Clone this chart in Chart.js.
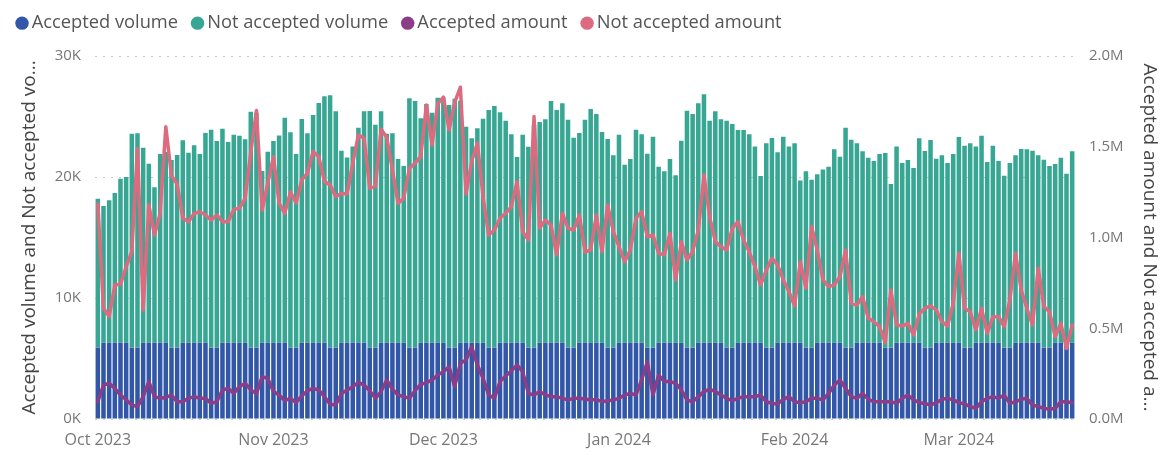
<!DOCTYPE html>
<html lang="en">
<head>
  <meta charset="UTF-8" />
  <title>Accepted vs not accepted</title>
  <script src="https://cdn.jsdelivr.net/npm/chart.js"></script>
  <style>
    * { margin: 0; padding: 0; box-sizing: border-box; }
    body { background: #fff; }
    .chart-container { position: relative; width: 1165px; height: 455px; }
  </style>
</head>
<body>
  <div class="chart-container">
    <canvas id="acceptChart"></canvas>
  </div>

  <script>
    // daily values, 1 Oct 2023 .. 21 Mar 2024 (one row per month)
    const acceptedVolume = [
      5900, 6300, 6300, 6300, 6300, 6300, 5900, 5900, 6300, 6300, 6300, 6300, 6300, 5900, 5900, 6300, 6300, 6300, 6300, 6300, 5900, 5900, 6300, 6300, 6300, 6300, 6300, 5900, 5900, 6300, 6300,
      6300, 6300, 6300, 5900, 5900, 6300, 6300, 6300, 6300, 6300, 5900, 5900, 6300, 6300, 6300, 6300, 6300, 5900, 5900, 6300, 6300, 6300, 6300, 6300, 5900, 5900, 6300, 6300, 6300, 6300,
      6300, 5900, 5900, 6300, 6300, 6300, 6300, 6300, 5900, 5900, 6300, 6300, 6300, 6300, 6300, 5900, 5900, 6300, 6300, 6300, 6300, 6300, 5900, 5900, 6300, 6300, 6300, 6300, 6300, 5900, 5900,
      6300, 6300, 6300, 6300, 6300, 5900, 5900, 6300, 6300, 6300, 6300, 6300, 5900, 5900, 6300, 6300, 6300, 6300, 6300, 5900, 5900, 6300, 6300, 6300, 6300, 6300, 5900, 5900, 6300, 6300, 6300,
      6300, 6300, 5900, 5900, 6300, 6300, 6300, 6300, 6300, 5900, 5900, 6300, 6300, 6300, 6300, 6300, 5900, 5900, 6300, 6300, 6300, 6300, 6300, 5900, 5900, 6300, 6300, 6300, 6300,
      6300, 5900, 5900, 6300, 6300, 6300, 6300, 6300, 5900, 5900, 6300, 6300, 6300, 6300, 6300, 5900, 5900, 6300, 6300, 6300, 6300
    ];

    const notAcceptedVolume = [
      12310, 11300, 11770, 12380, 13560, 13700, 17680, 17710, 16120, 14800, 12850, 15600, 15760, 15500, 15920, 16730, 15710, 16320, 15600, 17330, 18010, 17070, 17690, 16590, 17200, 17110, 16810, 19500, 19400, 14190, 15790,
      16670, 17140, 18600, 17790, 16000, 18490, 17310, 18820, 19810, 20370, 20850, 19530, 15870, 15320, 16230, 17780, 19130, 19550, 18420, 19130, 17280, 17310, 15190, 14610, 20600, 20380, 18550, 19730, 19010, 20250,
      20280, 20050, 20570, 20000, 17860, 16900, 17720, 18520, 19640, 19970, 19050, 18350, 17230, 15350, 17200, 16600, 18400, 18240, 18470, 19980, 19240, 19790, 18840, 17350, 17330, 18440, 19320, 18910, 17420, 17240, 15890,
      17200, 14720, 15190, 17610, 17230, 16030, 17430, 14550, 14170, 15190, 13840, 16700, 19580, 19310, 19790, 20530, 18350, 19130, 18470, 18750, 18480, 17580, 17580, 17230, 16230, 13780, 16880, 17320, 15740, 17030, 16230,
      16480, 13420, 14570, 13880, 13920, 14330, 14550, 15990, 15380, 18180, 17180, 16480, 15820, 15300, 15020, 15600, 16080, 13520, 16230, 14860, 15100, 14440, 16900, 16250, 17160, 15210, 15490, 14860, 15600,
      17000, 16690, 16880, 16230, 17110, 14940, 16290, 15020, 14210, 15260, 15490, 16010, 15990, 15870, 15490, 15530, 15010, 14770, 15300, 13970, 15820
    ];

    const acceptedAmount = [
      95000, 187000, 197000, 169000, 132000, 105000, 77000, 68000, 123000, 206000, 123000, 114000, 119000, 132000, 95000, 95000, 114000, 123000, 114000, 114000, 86000, 95000, 160000, 169000, 141000, 178000, 197000, 160000, 140000, 233000, 224000,
      151000, 132000, 101000, 114000, 90000, 127000, 156000, 169000, 160000, 123000, 81000, 77000, 141000, 160000, 178000, 202000, 187000, 156000, 114000, 151000, 215000, 164000, 132000, 123000, 114000, 156000, 190000, 200000, 215000, 242000,
      261000, 288000, 178000, 307000, 325000, 398000, 298000, 224000, 132000, 114000, 206000, 237000, 266000, 298000, 261000, 141000, 132000, 151000, 132000, 123000, 123000, 114000, 105000, 114000, 114000, 110000, 105000, 108000, 95000, 101000, 105000,
      114000, 132000, 141000, 132000, 215000, 316000, 132000, 242000, 206000, 206000, 197000, 160000, 105000, 95000, 123000, 151000, 164000, 151000, 132000, 114000, 101000, 114000, 123000, 123000, 123000, 132000, 95000, 86000, 83000, 108000, 123000,
      95000, 90000, 95000, 114000, 114000, 105000, 141000, 187000, 215000, 169000, 123000, 114000, 141000, 108000, 95000, 95000, 95000, 95000, 86000, 114000, 132000, 105000, 90000, 86000, 77000, 90000, 108000, 114000, 105000,
      90000, 83000, 68000, 59000, 95000, 114000, 123000, 114000, 132000, 86000, 95000, 108000, 114000, 77000, 68000, 59000, 53000, 59000, 95000, 95000, 90000
    ];

    const notAcceptedAmount = [
      1185000, 610000, 564000, 738000, 742000, 839000, 922000, 1490000, 600000, 1180000, 1014000, 1133000, 1610000, 1340000, 1295000, 1106000, 1087000, 1133000, 1142000, 1124000, 1096000, 1124000, 1087000, 1087000, 1155000, 1161000, 1216000, 1470000, 1700000, 1150000, 1300000,
      1445000, 1190000, 1133000, 1250000, 1190000, 1317000, 1354000, 1473000, 1445000, 1308000, 1290000, 1225000, 1244000, 1240000, 1409000, 1565000, 1547000, 1271000, 1280000, 1596000, 1552000, 1372000, 1188000, 1216000, 1381000, 1409000, 1445000, 1730000, 1510000, 1736000,
      1774000, 1592000, 1745000, 1828000, 1240000, 1420000, 1520000, 1225000, 1014000, 1041000, 1106000, 1133000, 1170000, 1308000, 1032000, 986000, 1666000, 1051000, 1096000, 1069000, 904000, 1133000, 1051000, 1041000, 1124000, 920000, 931000, 1124000, 922000, 1179000, 1032000,
      949000, 867000, 931000, 1106000, 1142000, 1005000, 1014000, 913000, 904000, 1023000, 766000, 977000, 876000, 922000, 1041000, 1344000, 1115000, 977000, 949000, 931000, 1051000, 1087000, 986000, 920000, 840000, 738000, 821000, 885000, 849000, 766000, 702000,
      623000, 867000, 720000, 1060000, 931000, 766000, 729000, 738000, 784000, 931000, 637000, 628000, 674000, 555000, 536000, 509000, 420000, 711000, 518000, 512000, 527000, 463000, 578000, 610000, 623000, 600000, 536000, 512000, 637000,
      913000, 610000, 591000, 490000, 610000, 472000, 564000, 564000, 509000, 656000, 913000, 711000, 610000, 518000, 830000, 619000, 591000, 453000, 527000, 389000, 518000
    ];

    const seriesNames = ['Accepted volume', 'Not accepted volume', 'Accepted amount', 'Not accepted amount'];
    const seriesColors = ['#3257A8', '#37A794', '#8B3D88', '#DD6B7F'];
    const monthNames = ['Jan', 'Feb', 'Mar', 'Apr', 'May', 'Jun', 'Jul', 'Aug', 'Sep', 'Oct', 'Nov', 'Dec'];

    // one category per day, starting 1 Oct 2023
    const days = acceptedVolume.map((_, i) => new Date(2023, 9, 1 + i));
    const dayLabels = days.map(d => d.getFullYear() + '-' + (d.getMonth() + 1) + '-' + d.getDate());

    Chart.defaults.font.family = "'Segoe UI', 'Open Sans', sans-serif";
    Chart.defaults.color = '#777';

    // taller legend box so the plot starts lower on the canvas
    const legendSpacing = {
      id: 'legendSpacing',
      beforeInit(chart) {
        const fit = chart.legend.fit;
        chart.legend.fit = function () {
          fit.call(this);
          this.height = 61;
        };
      }
    };

    const ctx = document.getElementById('acceptChart').getContext('2d');

    new Chart(ctx, {
      type: 'bar',
      data: {
        labels: dayLabels,
        datasets: [
          {
            label: seriesNames[0],
            data: acceptedVolume,
            backgroundColor: seriesColors[0],
            yAxisID: 'y',
            order: 2,
            barPercentage: 0.8,
            categoryPercentage: 1
          },
          {
            label: seriesNames[1],
            data: notAcceptedVolume,
            backgroundColor: seriesColors[1],
            yAxisID: 'y',
            order: 2,
            barPercentage: 0.8,
            categoryPercentage: 1
          },
          {
            type: 'line',
            label: seriesNames[2],
            data: acceptedAmount,
            yAxisID: 'y1',
            borderColor: seriesColors[2],
            backgroundColor: seriesColors[2],
            borderWidth: 3.5,
            borderJoinStyle: 'round',
            borderCapStyle: 'round',
            pointRadius: 0,
            tension: 0,
            order: 1
          },
          {
            type: 'line',
            label: seriesNames[3],
            data: notAcceptedAmount,
            yAxisID: 'y1',
            borderColor: seriesColors[3],
            backgroundColor: seriesColors[3],
            borderWidth: 3.5,
            borderJoinStyle: 'round',
            borderCapStyle: 'round',
            pointRadius: 0,
            tension: 0,
            order: 0
          }
        ]
      },
      options: {
        responsive: true,
        maintainAspectRatio: false,
        animation: false,
        layout: {
          padding: { top: -5, left: 2.5, right: 0, bottom: 0 }
        },
        plugins: {
          legend: {
            position: 'top',
            align: 'start',
            labels: {
              usePointStyle: true,
              pointStyle: 'circle',
              boxWidth: 1,
              boxHeight: 9.5,
              padding: 19,
              color: '#555',
              font: { size: 18.3 },
              sort: (a, b) => a.datasetIndex - b.datasetIndex,
              generateLabels(chart) {
                return Chart.defaults.plugins.legend.labels.generateLabels(chart).map(item => {
                  const c = seriesColors[item.datasetIndex];
                  return { ...item, fillStyle: c, strokeStyle: c, lineWidth: 0 };
                });
              }
            }
          },
          tooltip: { enabled: false }
        },
        scales: {
          x: {
            stacked: true,
            grid: { display: false },
            border: { display: false },
            ticks: {
              autoSkip: false,
              maxRotation: 0,
              padding: 4,
              color: '#777',
              font: { size: 16 },
              callback: function (value, index) {
                const d = days[index];
                return d.getDate() === 1 ? monthNames[d.getMonth()] + ' ' + d.getFullYear() : '';
              }
            },
            afterFit: s => { s.height = 36; }
          },
          y: {
            stacked: true,
            position: 'left',
            min: 0,
            max: 30000,
            ticks: {
              stepSize: 10000,
              padding: 14,
              font: { size: 15 },
              callback: v => (v / 1000) + 'K'
            },
            grid: { color: '#c8c8c8', drawTicks: false },
            border: { display: false, dash: [2, 6] },
            title: {
              display: true,
              text: 'Accepted volume and Not accepted vo...',
              color: '#444',
              font: { size: 19 },
              padding: { top: 16, bottom: 0 }
            },
            afterFit: s => { s.width = 92.5; }
          },
          y1: {
            position: 'right',
            min: 0,
            max: 2000000,
            ticks: {
              stepSize: 500000,
              padding: 14,
              font: { size: 15 },
              callback: v => (v / 1000000).toFixed(1) + 'M'
            },
            grid: { display: false, drawTicks: false },
            border: { display: false },
            title: {
              display: true,
              text: 'Accepted amount and Not accepted a...',
              color: '#444',
              font: { size: 19 },
              padding: { top: 4, bottom: 0 }
            },
            afterFit: s => { s.width = 90; }
          }
        }
      },
      plugins: [legendSpacing]
    });
  </script>
</body>
</html>
